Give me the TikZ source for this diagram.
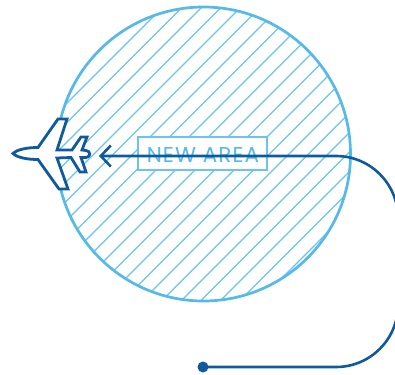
\documentclass[tikz,border=0pt]{standalone}
\usepackage{fontspec}
\setmainfont{Poppins}
\usetikzlibrary{arrows.meta, positioning}
\definecolor{skyline}{HTML}{55B9E9}
\definecolor{hatchblue}{HTML}{6CC4EE}
\definecolor{routeblue}{HTML}{0F5A9C}
\tikzset{
  areaedge/.style={draw=skyline, line width=2.7pt},
  hatchline/.style={hatchblue, line width=1.2pt},
  areabox/.style={draw=hatchblue, line width=1.4pt, fill=white, minimum width=129pt, minimum height=33pt, inner sep=0pt},
  route/.style={routeblue, line width=2.6pt, rounded corners=62pt},
  startdot/.style={circle, fill=routeblue, minimum size=11pt, inner sep=0pt},
  planeshape/.style={draw=routeblue, fill=white, line width=2.8pt, line join=miter}
}
\begin{document}
\begin{tikzpicture}[x=1pt,y=-1pt]
  \clip (0,0) rectangle (395,374);
  % --- hatched area ---
  \begin{scope}
    \clip (203.5,154) circle (147);
    \foreach \s in {150.5,170,...,580} {
      \draw[hatchline] (\s-400,400) -- (\s+100,-100);
    }
  \end{scope}
  \draw[areaedge] (203.5,154) circle (147);
  \node[areabox] (newarea) at (202.5,153.5) {};
  \node[text=skyline, font=\fontsize{21.5}{21.5}\selectfont, inner sep=0pt] (newarealabel) at (203,155.5) {\addfontfeature{LetterSpace=5}NEW AREA};
  % --- route ---
  \node[startdot] (routestart) at (203,367) {};
  \coordinate (routebottom) at (398,367);
  \coordinate (routetop) at (398,156);
  \coordinate (routeend) at (99,156);
  \draw[route, -{Straight Barb[length=10pt,width=21pt,line width=2.6pt]}] (routestart.center) -- (routebottom) -- (routetop) -- (routeend);
  % --- plane ---
  \draw[planeshape] (13,153.5) .. controls (17,149.5) and (27,147.5) .. (38,147.5) -- (58,119) -- (67,119) -- (57,150)
    -- (72,150) -- (81,137) -- (87,137) -- (82,150) -- (86,150.5)
    .. controls (91,151) and (91,157) .. (86,157.5) -- (81,157.5) -- (86,172) -- (80,172) -- (71,157.5) -- (57,158)
    -- (68,189) -- (59,189) -- (38,159.5) .. controls (27,159.5) and (17,157.5) .. (13,153.5) -- cycle;
\end{tikzpicture}
\end{document}
